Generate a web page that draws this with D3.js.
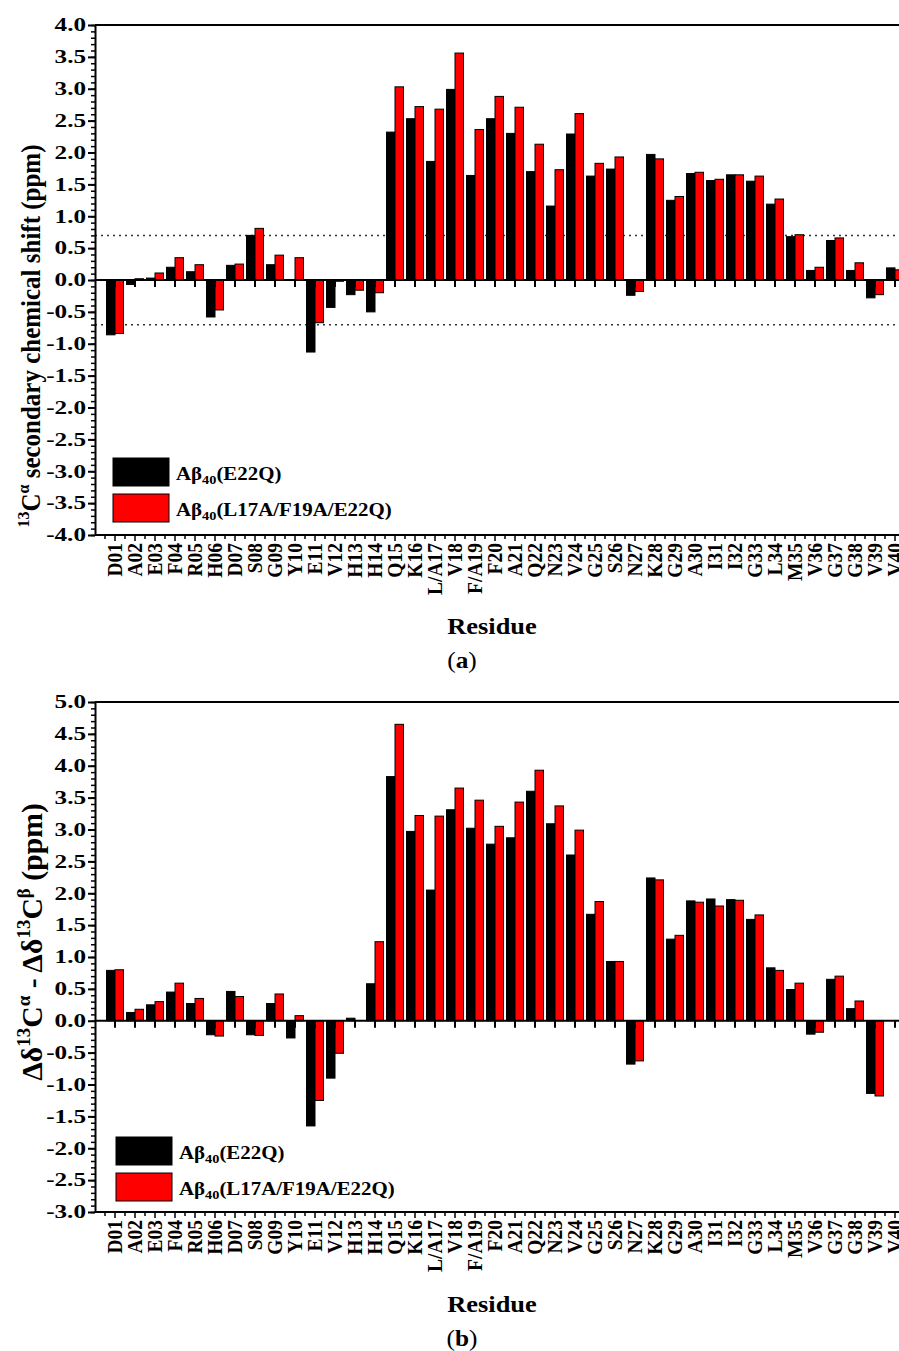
<!DOCTYPE html>
<html><head><meta charset="utf-8">
<script src="https://cdn.jsdelivr.net/npm/d3@7"></script>
<style>body{margin:0;background:#fff} svg{display:block;background:#fff}</style>
</head><body>
<svg id="c" width="899" height="1351"></svg>
<script>
const categories = ["D01","A02","E03","F04","R05","H06","D07","S08","G09","Y10","E11","V12","H13","H14","Q15","K16","L/A17","V18","F/A19","F20","A21","Q22","N23","V24","G25","S26","N27","K28","G29","A30","I31","I32","G33","L34","M35","V36","G37","G38","V39","V40"];
const seriesColors = ["#000000","#ff0000"];
// (a) 13C-alpha secondary chemical shift (ppm)
const secShiftE22Q   = [-0.86,-0.07,0.03,0.20,0.13,-0.58,0.23,0.70,0.24,0.00,-1.13,-0.43,-0.23,-0.50,2.32,2.53,1.86,2.99,1.64,2.53,2.30,1.70,1.16,2.29,1.63,1.74,-0.24,1.97,1.25,1.67,1.56,1.65,1.55,1.19,0.68,0.15,0.62,0.15,-0.28,0.19];
const secShiftTriple = [-0.84,0.02,0.11,0.35,0.24,-0.47,0.25,0.81,0.39,0.35,-0.67,-0.02,-0.16,-0.20,3.03,2.72,2.68,3.56,2.36,2.88,2.71,2.13,1.73,2.61,1.83,1.93,-0.18,1.90,1.31,1.69,1.58,1.65,1.63,1.27,0.71,0.20,0.66,0.27,-0.23,0.16];
// (b) delta-delta 13C-alpha minus delta-delta 13C-beta (ppm)
const dCaCbE22Q   = [0.79,0.13,0.25,0.45,0.27,-0.22,0.46,-0.22,0.27,-0.27,-1.65,-0.90,0.04,0.58,3.83,2.97,2.05,3.31,3.02,2.77,2.87,3.60,3.09,2.60,1.67,0.93,-0.68,2.24,1.28,1.88,1.91,1.90,1.59,0.83,0.49,-0.21,0.65,0.19,-1.14,0.00];
const dCaCbTriple = [0.80,0.18,0.30,0.59,0.35,-0.24,0.38,-0.23,0.42,0.08,-1.25,-0.51,0.00,1.24,4.65,3.22,3.21,3.65,3.46,3.05,3.43,3.93,3.37,2.99,1.87,0.93,-0.63,2.21,1.34,1.86,1.80,1.89,1.66,0.79,0.59,-0.18,0.70,0.31,-1.18,0.00];
const ticksA = [-4.0,-3.5,-3.0,-2.5,-2.0,-1.5,-1.0,-0.5,0.0,0.5,1.0,1.5,2.0,2.5,3.0,3.5,4.0];
const ticksB = [-3.0,-2.5,-2.0,-1.5,-1.0,-0.5,0.0,0.5,1.0,1.5,2.0,2.5,3.0,3.5,4.0,4.5,5.0];
const thresholdsA = [0.7,-0.7];

const FONT = "'Liberation Serif','Times New Roman',serif";
const svg = d3.select("#c");
const frameLeft = 95, frameRight = 915;

const x = d3.scaleBand().domain(categories).range([105,905]).paddingInner(0.15).paddingOuter(0.075);
const xs = d3.scaleBand().domain([0,1]).range([0, x.bandwidth()]);

function stext(g, px, py, sx, size, anchor, bold) {
  return g.append("text")
    .attr("transform", `translate(${px},${py}) scale(${sx},1)`)
    .attr("font-family", FONT).attr("font-size", size)
    .attr("font-weight", bold ? "bold" : "normal")
    .attr("text-anchor", anchor).attr("fill", "#000");
}

function panel(o) {
  const g = svg.append("g");
  const y = d3.scaleLinear().domain(o.domain).range([o.bottom, o.top]);

  // threshold dotted lines
  g.selectAll("line.thr").data(o.thresholds || []).join("line")
    .attr("x1", frameLeft).attr("x2", frameRight)
    .attr("y1", d => y(d)).attr("y2", d => y(d))
    .attr("stroke", "#333").attr("stroke-width", 1.5).attr("stroke-dasharray", "2,4");

  // bars
  const rows = categories.map((c, i) => ({ c, vals: [o.s1[i], o.s2[i]] }));
  g.selectAll("g.grp").data(rows).join("g").attr("class","grp")
    .attr("transform", d => `translate(${x(d.c)},0)`)
    .selectAll("rect").data(d => d.vals.map((v, k) => ({ v, k }))).join("rect")
    .attr("x", d => xs(d.k)).attr("width", xs.bandwidth())
    .attr("y", d => y(Math.max(0, d.v)))
    .attr("height", d => Math.abs(y(d.v) - y(0)))
    .attr("fill", d => seriesColors[d.k])
    .attr("stroke", "#000").attr("stroke-width", 1);

  // frame
  const [ymin, ymax] = o.domain;
  [[frameLeft, y(ymax), frameRight, y(ymax)], [frameLeft, y(ymin), frameRight, y(ymin)], [frameRight, y(ymax), frameRight, y(ymin)], [frameLeft, y(0), frameRight, y(0)]]
    .forEach(l => g.append("line").attr("x1", l[0]).attr("y1", l[1]).attr("x2", l[2]).attr("y2", l[3])
      .attr("stroke", "#000").attr("stroke-width", 2));

  // left axis minor
  const minor = d3.range(Math.round(ymin * 10), Math.round(ymax * 10) + 1).map(v => v / 10);
  const gm = g.append("g").attr("transform", `translate(${frameLeft},0)`)
    .call(d3.axisLeft(y).tickValues(minor).tickSize(4).tickSizeOuter(0).tickFormat(""));
  gm.select(".domain").remove();
  gm.selectAll(".tick line").attr("stroke-width", 1.5);

  // left axis major
  const ga = g.append("g").attr("transform", `translate(${frameLeft},0)`)
    .call(d3.axisLeft(y).tickValues(o.ticks).tickSize(7).tickSizeOuter(0).tickFormat(d => d.toFixed(1)));
  ga.select(".domain").attr("stroke-width", 2);
  ga.selectAll(".tick line").attr("stroke-width", 2);
  ga.selectAll("text").attr("font-family", FONT).attr("font-weight", "bold").attr("font-size", 18)
    .attr("fill", "#000").attr("x", -9 / 1.4).attr("transform", "scale(1.4,1)");

  // ticks at zero line
  const gz = g.append("g").attr("transform", `translate(0,${y(0)})`)
    .call(d3.axisBottom(x).tickSize(7).tickSizeOuter(0).tickFormat(""));
  gz.select(".domain").remove();
  gz.selectAll(".tick line").attr("stroke-width", 2);

  // bottom axis minor ticks (half steps)
  const half = [x(categories[0]) + x.bandwidth() / 2 - x.step() / 2]
    .concat(categories.map(c => x(c) + x.bandwidth() / 2 + x.step() / 2));
  g.selectAll("line.mx").data(half).join("line")
    .attr("x1", d => d).attr("x2", d => d).attr("y1", y(ymin)).attr("y2", y(ymin) + 4)
    .attr("stroke", "#000").attr("stroke-width", 1.5);

  // bottom axis
  const gb = g.append("g").attr("transform", `translate(0,${y(ymin)})`)
    .call(d3.axisBottom(x).tickSize(6).tickSizeOuter(0));
  gb.select(".domain").remove();
  gb.selectAll(".tick line").attr("stroke-width", 1.5);
  gb.selectAll("text").attr("font-family", FONT).attr("font-weight", "bold").attr("font-size", 19.5)
    .attr("fill", "#000").attr("text-anchor", "end")
    .attr("x", -8).attr("y", 0).attr("dy", "0.33em")
    .attr("transform", "rotate(-90) scale(1,1.1)");

  // y title
  const t = g.append("text")
    .attr("transform", `translate(${o.titleX},${o.titleY}) rotate(-90) scale(${o.titleSx},1.1)`)
    .attr("font-family", FONT).attr("font-weight", "bold").attr("font-size", o.titleSize)
    .attr("text-anchor", "middle").attr("fill", "#000");
  o.title.forEach(p => {
    t.append("tspan").text(p.t)
      .attr("font-size", p.sup ? o.titleSize * 0.64 : o.titleSize)
      .attr("dy", p.dy || 0);
  });

  // x title
  stext(g, 492, o.resY, 1.1, 24, "middle", true).text("Residue");
  const lab = stext(g, 462, o.labY, 1.1, 23, "middle", false);
  lab.append("tspan").text("(");
  lab.append("tspan").text(o.label).attr("font-weight", "bold");
  lab.append("tspan").text(")");

  // legend
  const names = [["(E22Q)"], ["(L17A/F19A/E22Q)"]];
  names.forEach((n, k) => {
    const yy = o.legY + k * 36;
    g.append("rect").attr("x", o.legX).attr("y", yy).attr("width", 56).attr("height", 28)
      .attr("fill", seriesColors[k]).attr("stroke", "#000").attr("stroke-width", 1);
    const tx = stext(g, o.legX + 63, yy + 22, 1.1, 19, "start", true);
    tx.append("tspan").text("Aβ");
    tx.append("tspan").text("40").attr("font-size", 13).attr("dy", 4);
    tx.append("tspan").text(n[0]).attr("dy", -4);
  });
}

panel({
  domain: [-4, 4], top: 25, bottom: 535, ticks: ticksA, s1: secShiftE22Q, s2: secShiftTriple,
  thresholds: thresholdsA,
  titleX: 40, titleY: 336, titleSize: 25, titleSx: 1,
  title: [{t:"13", sup:true, dy:-10}, {t:"C", dy:10}, {t:"α", sup:true, dy:-10}, {t:" secondary chemical shift (ppm)", dy:10}],
  resY: 634, labY: 668, label: "a", legX: 113, legY: 458
});
panel({
  domain: [-3, 5], top: 702, bottom: 1212, ticks: ticksB, s1: dCaCbE22Q, s2: dCaCbTriple,
  thresholds: [],
  titleX: 42, titleY: 942, titleSize: 27, titleSx: 1.1,
  title: [{t:"Δδ"}, {t:"13", sup:true, dy:-11}, {t:"C", dy:11}, {t:"α", sup:true, dy:-11}, {t:" - Δδ", dy:11}, {t:"13", sup:true, dy:-11}, {t:"C", dy:11}, {t:"β", sup:true, dy:-11}, {t:" (ppm)", dy:11}],
  resY: 1312, labY: 1346, label: "b", legX: 116, legY: 1137
});
</script>
</body></html>
